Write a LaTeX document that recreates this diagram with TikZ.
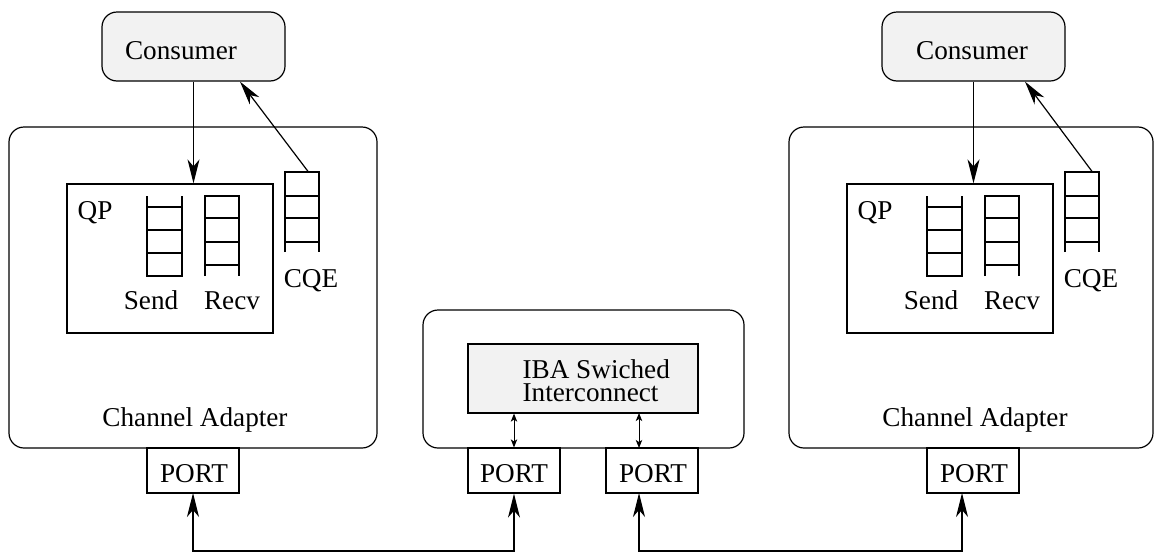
\documentclass[tikz,border=0pt]{standalone}
\usepackage{fontspec}
\setmainfont{Liberation Serif}
\usetikzlibrary{arrows.meta,fit,calc}
\definecolor{boxgray}{gray}{0.95}
\newcommand{\caside}[7]{% #1 prefix, #2 xshift(pt), #3 consumer text x, #4 cqe arrow start dx, #5 cqe arrow end dx, #6 port arrow x, #7 adapter right edge
\begin{scope}[xshift=#2]
  \node[rbox, fill=boxgray, fit={(102,12) (285,81)}] (#1cons) {};
  \node[anchor=base] (#1constxt) at (#3,59) {Consumer};
  \node[rbox, fit={(9,127) (#7,448)}] (#1ca) {};
  \node[anchor=base] (#1catxt) at (195,426) {Channel Adapter};
  \node[sbox, fit={(67,184) (273,333)}] (#1qp) {};
  \node[anchor=base] (#1qptxt) at (95,219) {QP};
  % send queue
  \node[fit={(147,196) (182,276)}] (#1send) {};
  \draw (147,196) -- (147,276) -- (182,276) -- (182,196);
  \draw (147,207) -- (182,207) (147,230) -- (182,230) (147,253) -- (182,253);
  % recv queue
  \node[fit={(205,196) (239,276)}] (#1recv) {};
  \draw (205,276) -- (205,196) -- (239,196) -- (239,276);
  \draw (205,218) -- (239,218) (205,242) -- (239,242) (205,265) -- (239,265);
  % cqe
  \node[fit={(285,172) (319,252)}] (#1cqe) {};
  \draw (285,252) -- (285,172) -- (319,172) -- (319,252);
  \draw (285,196) -- (319,196) (285,218) -- (319,218) (285,242) -- (319,242);
  \node[anchor=base] (#1sendtxt) at (151,309) {Send};
  \node[anchor=base] (#1recvtxt) at (232,309) {Recv};
  \node[anchor=base] (#1cqetxt) at (311,287) {CQE};
  \node[sbox, fit={(147,448) (239,493)}] (#1port) {};
  \node[anchor=base] (#1porttxt) at (194,482) {PORT};
  \draw[arr] (#1cons.south) -- (#1cons.south |- #1qp.north);
  \draw[arr] ($(#1cqe.north)+(#4,0)$) -- ($(#1cons.south)+(#5,0)$);
  \coordinate (#1pa) at (#6,493);
\end{scope}}
\begin{document}
\begin{tikzpicture}[x=0.5pt,y=-0.5pt, line width=0.6pt,
  every node/.style={font=\fontsize{13.6}{11.5}\selectfont, inner sep=0pt},
  rbox/.style={draw, rounded corners=7.5pt, inner sep=0pt},
  sbox/.style={draw, inner sep=0pt},
  arr/.style={-{Stealth[length=12pt,width=6pt,inset=3.5pt]}},
  arrb/.style={{Stealth[length=12pt,width=6pt,inset=3.5pt]}-{Stealth[length=12pt,width=6pt,inset=3.5pt]}},
  dbl/.style={{Stealth[length=4pt,width=3.2pt,inset=1pt]}-{Stealth[length=4pt,width=3.2pt,inset=1pt]}, line width=0.5pt}]
\useasboundingbox (0,0) rectangle (1155,552);
\caside{L}{0pt}{181}{6}{46.5}{193}{377}
\caside{R}{390pt}{192}{10}{51.5}{182}{373}
% middle switch
\node[rbox, fit={(423,310) (744,448)}] (sw) {};
\node[sbox, fill=boxgray, fit={(468,344) (698,413)}] (iba) {};
\node[anchor=base west, align=left] (ibatxt) at (522,401) {IBA Swiched\\Interconnect};
\node[sbox, fit={(468,448) (560,493)}] (mp1) {};
\node[anchor=base] (mp1txt) at (514,482) {PORT};
\node[sbox, fit={(606,448) (698,493)}] (mp2) {};
\node[anchor=base] (mp2txt) at (653,482) {PORT};
\coordinate (j2a) at (639,413);
\coordinate (j2b) at (639,448);
\coordinate (mpa) at (639,493);
\coordinate (bot) at (0,551);
\draw[dbl] (iba.south -| mp1.north) -- (mp1.north);
\draw[dbl] (j2a) -- (j2b);
\draw[arrb] (Lpa) -- (Lpa |- bot) -- (mp1.south |- bot) -- (mp1.south);
\draw[arrb] (mpa) -- (mpa |- bot) -- (Rpa |- bot) -- (Rpa);
\end{tikzpicture}
\end{document}
